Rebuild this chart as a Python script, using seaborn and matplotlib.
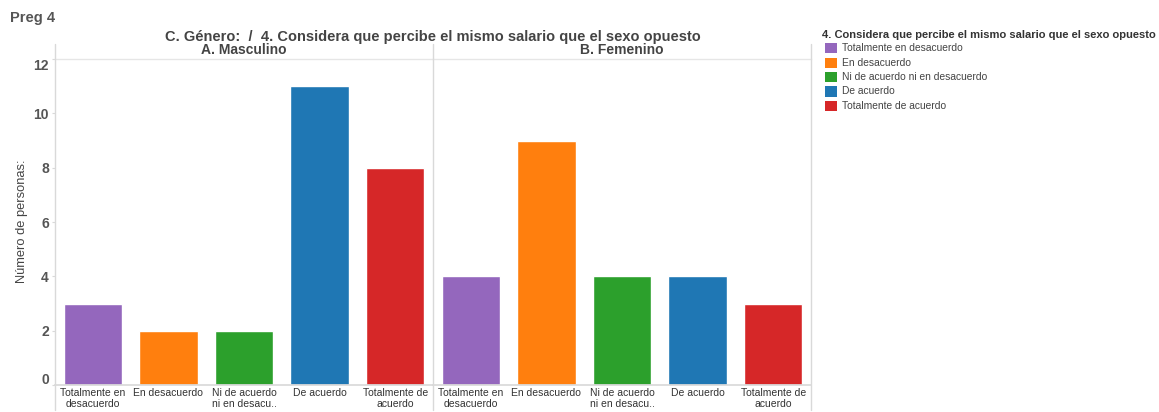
import matplotlib
matplotlib.use("Agg")
import matplotlib.pyplot as plt
from matplotlib.lines import Line2D
from matplotlib.patches import Rectangle
from matplotlib.transforms import ScaledTranslation
import seaborn as sns
import pandas as pd

# Survey answers and counts per gender
respuestas = ["Totalmente en desacuerdo", "En desacuerdo", "Ni de acuerdo ni en desacuerdo",
              "De acuerdo", "Totalmente de acuerdo"]
etiquetas_eje = ["Totalmente en\ndesacuerdo", "En desacuerdo", "Ni de acuerdo\nni en desacu..",
                 "De acuerdo", "Totalmente de\nacuerdo"]
generos = ["A. Masculino", "B. Femenino"]
masculino = [3, 2, 2, 11, 8]
femenino = [4, 9, 4, 4, 3]
colores = ["#9467bd", "#ff7f0e", "#2ca02c", "#1f77b4", "#d62728"]
y_ticks = [0, 2, 4, 6, 8, 10, 12]

df = pd.DataFrame({
    "genero": [generos[0]] * 5 + [generos[1]] * 5,
    "respuesta": respuestas * 2,
    "personas": masculino + femenino,
})

sns.set_theme(style="white")
plt.rcParams["font.family"] = ["Liberation Sans", "DejaVu Sans"]

W, H = 1159, 412
fig = plt.figure(figsize=(W / 100, H / 100), dpi=100)
gray = "#555555"
line_c = "#d9d9d9"

x0, xm, x1 = 55, 433, 811
ytop, ybot = 59, 385

def fx(px):
    return px / W

def fy(py):
    return 1 - py / H

palette = dict(zip(respuestas, colores))
for i, (g, (a, b)) in enumerate(zip(generos, [(x0, xm), (xm, x1)])):
    ax = fig.add_axes([fx(a), fy(ybot), fx(b - a), fy(ytop) - fy(ybot)])
    sub = df[df["genero"] == g]
    sns.barplot(data=sub, x="respuesta", y="personas", hue="respuesta",
                order=respuestas, hue_order=respuestas, palette=palette,
                dodge=False, width=0.77, saturation=1, legend=False, ax=ax)
    ax.set_ylim(0, 12)
    ax.set_xlim(-0.5, 4.5)
    ax.set_xlabel("")
    ax.set_ylabel("")
    ax.set_xticks(range(5))
    ax.set_xticklabels(etiquetas_eje, fontsize=7.5, color="#333333", linespacing=1.05)
    ax.set_xticks([0.5, 1.5, 2.5, 3.5], minor=True)
    ax.tick_params(axis="x", which="major", length=0, pad=2.5)
    ax.tick_params(axis="x", which="minor", length=3, color=line_c, width=0.8)
    for s in ax.spines.values():
        s.set_visible(False)
    ax.spines["bottom"].set_visible(True)
    ax.spines["bottom"].set_color(line_c)
    ax.spines["top"].set_visible(True)
    ax.spines["top"].set_color("#e6e6e6")
    ax.spines["top"].set_linewidth(1.0)
    ax.set_yticks(y_ticks)
    if i == 0:
        ax.set_yticklabels([str(v) for v in y_ticks], fontsize=10, fontweight="bold", color=gray)
        ax.tick_params(axis="y", length=2.5, color=line_c, width=0.8, pad=2, left=True)
        # keep the end labels inside the plotting band
        labels = ax.get_yticklabels()
        labels[0].set_transform(labels[0].get_transform()
                                + ScaledTranslation(0, 7 / 100, fig.dpi_scale_trans))
        labels[-1].set_transform(labels[-1].get_transform()
                                 + ScaledTranslation(0, -6 / 100, fig.dpi_scale_trans))
    else:
        ax.set_yticklabels([])
        ax.tick_params(axis="y", length=0)
    ax.text(0.5, 1.0 + 9 / (ybot - ytop), g, transform=ax.transAxes, ha="center", va="center",
            fontsize=10, fontweight="bold", color="#444444")

# Panel dividers
for px in (x0, xm, x1):
    fig.add_artist(Line2D([fx(px), fx(px)], [fy(44), fy(410)], color=line_c, lw=1.0))

fig.text(fx(22), fy(221), "Número de personas:", rotation=90, ha="center", va="center",
         color="#444444", fontsize=9.3)

fig.text(fx(10), fy(18), "Preg 4", fontsize=10.5, fontweight="bold", color=gray, va="center")
fig.text(fx(433), fy(37), "C. Género:  /  4. Considera que percibe el mismo salario que el sexo opuesto",
         fontsize=10.5, fontweight="bold", color="#444444", ha="center", va="center")

# Legend
fig.text(fx(822), fy(35), "4. Considera que percibe el mismo salario que el sexo opuesto",
         fontsize=8, fontweight="bold", color="#333333", va="center")
for k, (lab, c) in enumerate(zip(respuestas, colores)):
    yc = 48 + k * 14.5
    fig.add_artist(Rectangle((fx(825), fy(yc + 5)), fx(12), fy(yc - 5) - fy(yc + 5),
                             facecolor=c, edgecolor="none", transform=fig.transFigure))
    fig.text(fx(842), fy(yc), lab, fontsize=7.4, color="#444444", va="center")

fig.savefig("out.png", dpi=100, facecolor="white")
